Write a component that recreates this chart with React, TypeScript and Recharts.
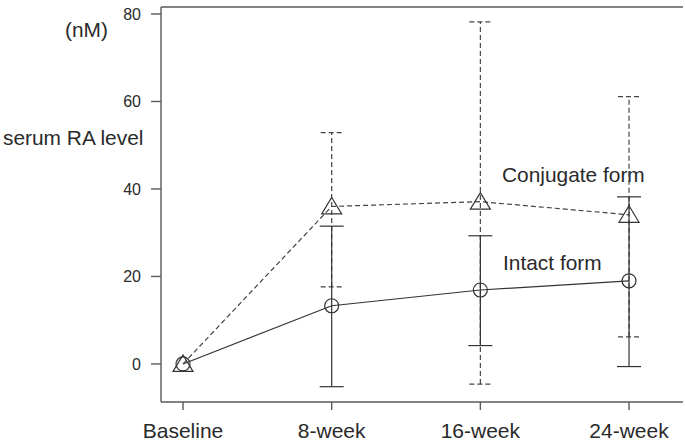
import React from "react";
import {
  ComposedChart,
  Line,
  XAxis,
  YAxis,
  ErrorBar,
  ReferenceLine,
  Customized,
} from "recharts";

const weeks = ["Baseline", "8-week", "16-week", "24-week"];

const conjugateMean = [0, 36.0, 37.1, 34.1];
const conjugateLow = [0, 17.6, -4.6, 6.2];
const conjugateHigh = [0, 52.9, 78.2, 61.1];

const intactMean = [0, 13.3, 16.9, 19.0];
const intactLow = [0, -5.2, 4.2, -0.6];
const intactHigh = [0, 31.5, 29.3, 38.2];

const yTicks = [0, 20, 40, 60, 80];
const Y_MIN = -8.7;
const Y_MAX = 81.6;

const FONT = "'Liberation Sans', Arial, sans-serif";
const TEXT = "#2a2a2a";
const FRAME = "#5a5a5a";

function errRange(mean: number, low: number, high: number) {
  if (low === mean && high === mean) return null;
  return [mean - low, high - mean];
}

const data = weeks.map((w, i) => ({
  idx: i,
  week: w,
  conjugate: conjugateMean[i],
  conjugateErr: errRange(conjugateMean[i], conjugateLow[i], conjugateHigh[i]),
  intact: intactMean[i],
  intactErr: errRange(intactMean[i], intactLow[i], intactHigh[i]),
}));

const TriangleDot = (props: any) => {
  const { cx, cy, index } = props;
  if (cx == null || cy == null) return <g key={`t-${index}`} />;
  const d = `M${cx},${cy - 9} L${cx + 10},${cy + 7.5} L${cx - 10},${cy + 7.5} Z`;
  return <path key={`t-${index}`} d={d} fill="none" stroke="#333" strokeWidth={1.2} />;
};

const CircleDot = (props: any) => {
  const { cx, cy, index } = props;
  if (cx == null || cy == null) return <g key={`c-${index}`} />;
  return <circle key={`c-${index}`} cx={cx} cy={cy} r={7} fill="none" stroke="#333" strokeWidth={1.2} />;
};

// text in the source is a bit wider than Liberation Sans, stretch slightly
const Note = ({ x, y, children }: { x: number; y: number; children: string }) => (
  <text transform={`translate(${x},${y}) scale(1.045,1)`}>{children}</text>
);

const Annotations = () => (
  <g fontFamily={FONT} fontSize={20} fill={TEXT}>
    <Note x={65} y={37}>(nM)</Note>
    <Note x={3} y={145}>serum RA level</Note>
    <Note x={502} y={182}>Conjugate form</Note>
    <Note x={503} y={270}>Intact form</Note>
  </g>
);

export default function App() {
  return (
    <div style={{ position: "absolute", left: 0, top: 0, background: "#fff" }}>
      <ComposedChart
        width={685}
        height={442}
        data={data}
        margin={{ top: 7, right: 2, bottom: 0, left: 0 }}
      >
        <XAxis
          dataKey="idx"
          type="number"
          domain={[-0.148, 3.363]}
          ticks={[0, 1, 2, 3]}
          allowDataOverflow
          tickFormatter={(v: number) => weeks[v]}
          height={40}
          tickSize={8}
          tickMargin={13}
          axisLine={{ stroke: FRAME, strokeWidth: 1.4 }}
          tickLine={{ stroke: FRAME, strokeWidth: 1.4 }}
          tick={{ fontSize: 21, fill: TEXT, fontFamily: FONT }}
        />
        <YAxis
          type="number"
          domain={[Y_MIN, Y_MAX]}
          ticks={yTicks}
          allowDataOverflow
          width={161}
          tickSize={10}
          tickMargin={10}
          axisLine={{ stroke: FRAME, strokeWidth: 1.4 }}
          tickLine={{ stroke: FRAME, strokeWidth: 1.4 }}
          tick={{ fontSize: 16, fill: TEXT, fontFamily: FONT }}
        />
        <ReferenceLine y={Y_MAX} stroke={FRAME} strokeWidth={1.4} />
        <Line
          dataKey="conjugate"
          stroke="#444"
          strokeWidth={1.2}
          strokeDasharray="5 3"
          dot={TriangleDot}
          activeDot={false}
          isAnimationActive={false}
        >
          <ErrorBar
            dataKey="conjugateErr"
            direction="y"
            width={11}
            stroke="#444"
            strokeWidth={1.2}
            strokeDasharray="5 3"
          />
        </Line>
        <Line
          dataKey="intact"
          stroke="#333"
          strokeWidth={1.2}
          dot={CircleDot}
          activeDot={false}
          isAnimationActive={false}
        >
          <ErrorBar
            dataKey="intactErr"
            direction="y"
            width={12}
            stroke="#333"
            strokeWidth={1.2}
          />
        </Line>
        <Customized component={Annotations} />
      </ComposedChart>
    </div>
  );
}
